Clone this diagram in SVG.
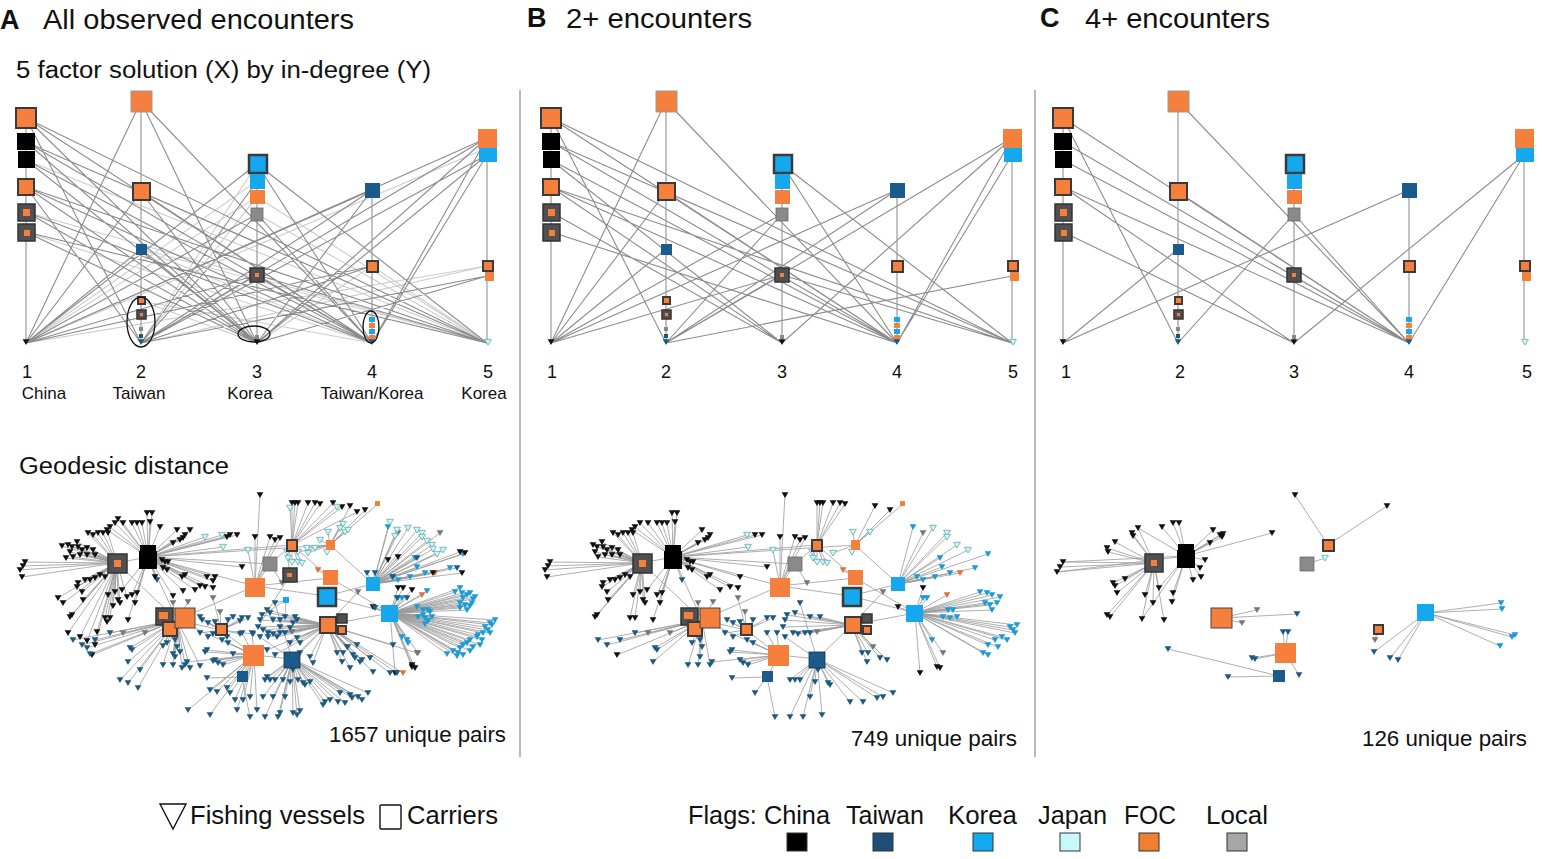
<svg xmlns="http://www.w3.org/2000/svg" width="1542" height="859" viewBox="0 0 1542 859">
<style>
text{font-family:"Liberation Sans",Arial,sans-serif;fill:#111}
.h{font-size:27px}
.hb{font-size:27px;font-weight:bold}
.s{font-size:23px}
.n{font-size:18px}
.m{font-size:17px}
.lg{font-size:25px}
.pr{font-size:22px}
.vl{stroke:#9a9a9a;stroke-width:1.2;fill:none}
.dv{stroke:#8a8a8a;stroke-width:1.2}
.te{fill:none;stroke:#8c8c8c;stroke-width:1.1}
.tl{fill:none;stroke:#cdcdcd;stroke-width:1.1}
.ne{fill:none;stroke:#9c9c9c;stroke-width:.95;stroke-opacity:.85}
.o{fill:#f57f3c}
.ob{fill:#f57f3c;stroke:#3a3a3a;stroke-width:2}
.db{fill:#505050;stroke:#333;stroke-width:1.5}
.bk{fill:#000}
.tw{fill:#1c5a8c}
.kr{fill:#16a8ee}
.kb{fill:#16a8ee;stroke:#3a3a3a;stroke-width:2.5}
.gr{fill:#8a8a8a;stroke:#6a6a6a;stroke-width:.8}
.k{fill:#111}
.d{fill:#1d5a82}
.b{fill:#1b9ad6}
.j{fill:#d0f6f8;stroke:#5fa8ae;stroke-width:.8}
.g{fill:#777}
.to{fill:#e07040}
.el{fill:none;stroke:#111;stroke-width:1.3}
.lgs{stroke:#333;stroke-width:1}
</style>
<defs>
<path id="t" d="M-3.4-2.7h6.8l-3.4 5.8z"/>
</defs>

<!-- headings -->
<g id="headings">
<text class="hb" x="0" y="29">A</text>
<text class="h" x="43" y="29" textLength="311" lengthAdjust="spacingAndGlyphs">All observed encounters</text>
<text class="hb" x="527" y="27">B</text>
<text class="h" x="566" y="28" textLength="186" lengthAdjust="spacingAndGlyphs">2+ encounters</text>
<text class="hb" x="1040" y="27">C</text>
<text class="h" x="1085" y="28" textLength="185" lengthAdjust="spacingAndGlyphs">4+ encounters</text>
<text class="s" x="16" y="78" textLength="415" lengthAdjust="spacingAndGlyphs">5 factor solution (X) by in-degree (Y)</text>
<text class="s" x="19" y="474" textLength="210" lengthAdjust="spacingAndGlyphs">Geodesic distance</text>
</g>

<g id="dividers">
<line class="dv" x1="520" y1="90" x2="520" y2="757"/>
<line class="dv" x1="1035" y1="90" x2="1035" y2="757"/>
</g>

<!-- ===== Top panel A ===== -->
<g id="topEdgesA">
<path class="tl" d="M257 181L26 343M257 197L26 343M257 197L141 343M257 214L487 343M257 164L141 343M372 266L257 343M26 212L487 343M26 160L487 343M141 249L372 343M141 249L487 343M487 266L26 343M487 266L141 343M141 301L372 343M141 301L257 343M26 232L372 343M257 197L487 343M372 266L487 343M487 148L26 343"/>
<path class="te" d="M26 118L141 343M26 118L257 343M26 118L372 343M26 118L487 343M26 142L257 343M26 142L372 343M26 142L487 343M26 160L257 343M26 160L372 343M26 187L141 343M26 187L257 343M26 187L372 343M26 187L487 343M26 212L257 343M26 212L372 343M26 232L257 343M26 232L487 343M141 101L26 343M141 101L257 343M141 101L372 343M141 192L26 343M141 192L257 343M141 192L372 343M141 192L487 343M141 249L26 343M141 249L257 343M257 164L26 343M257 164L372 343M257 164L487 343M257 181L141 343M257 214L26 343M257 214L141 343M257 214L372 343M257 275L26 343M257 275L141 343M257 275L372 343M257 275L487 343M372 190L26 343M372 190L141 343M372 190L257 343M372 266L26 343M372 266L141 343M487 138L26 343M487 138L141 343M487 138L257 343M487 138L372 343M487 155L141 343M487 155L257 343M487 155L372 343M487 276L141 343M487 276L257 343"/>
</g>
<g id="colsA">
<path class="vl" d="M26 118V343M141 101V343M257 164V343M372 190V343M487 138V343"/>
<g id="col1">
<rect class="ob" x="16" y="108" width="20" height="20"/>
<rect class="bk" x="17" y="133" width="18" height="17"/>
<rect class="bk" x="18" y="151" width="17" height="17"/>
<rect class="ob" x="18" y="179" width="16" height="16"/>
<rect class="db" x="18" y="204" width="17" height="17"/><rect class="o" x="23" y="209" width="7" height="7"/>
<rect class="db" x="18" y="224" width="17" height="17"/><rect class="o" x="24" y="230" width="6" height="6"/>
<use href="#t" x="26" y="342" class="k"/>
</g>
<g id="col2">
<rect class="o" x="131" y="91" width="21" height="21" stroke="#999" stroke-width="1"/>
<rect class="ob" x="133" y="183" width="17" height="17"/>
<rect class="tw" x="136" y="244" width="11" height="11"/>
<rect class="ob" x="138" y="297" width="7" height="7" stroke-width="1.5"/>
<rect class="db" x="137" y="310" width="9" height="9"/><rect class="o" x="140" y="313" width="3" height="3"/>
<rect x="139" y="327" width="4" height="4" fill="#888"/>
<rect x="139" y="334" width="4" height="4" fill="#1b5a75"/>
<use href="#t" x="141" y="342" class="d"/>
</g>
<g id="col3">
<rect class="kb" x="249" y="155" width="18" height="18"/>
<rect class="kr" x="250" y="174" width="15" height="15"/>
<rect class="o" x="250" y="190" width="15" height="14"/>
<rect class="gr" x="251" y="208" width="12" height="13"/>
<rect class="db" x="250" y="268" width="14" height="14"/><rect class="o" x="255" y="273" width="4" height="4"/>
<rect x="255" y="335" width="4" height="4" fill="#888"/>
<use href="#t" x="257" y="342" class="k"/>
</g>
<g id="col4">
<rect class="tw" x="365" y="183" width="15" height="15"/>
<rect class="ob" x="367" y="261" width="11" height="11"/>
<rect class="kr" x="369" y="317" width="6" height="5"/>
<rect class="o" x="369" y="323" width="6" height="5"/>
<rect class="kr" x="369" y="329" width="6" height="5"/>
<rect class="o" x="369" y="335" width="6" height="5"/>
<use href="#t" x="372" y="342" class="d"/>
</g>
<g id="col5">
<rect class="o" x="478" y="129" width="19" height="19"/>
<rect class="kr" x="479" y="148" width="18" height="14"/>
<rect class="ob" x="483" y="261" width="10" height="10"/>
<rect class="o" x="485" y="272" width="9" height="9"/>
<use href="#t" x="488" y="342" class="j"/>
</g>
</g>
<g id="ellipsesA">
<ellipse class="el" cx="141" cy="322" rx="14" ry="25"/>
<ellipse class="el" cx="254" cy="334" rx="16" ry="8"/>
<ellipse class="el" cx="371" cy="327" rx="8" ry="16"/>
</g>
<g id="labelsA">
<text class="n" x="27" y="378" text-anchor="middle">1</text>
<text class="n" x="141" y="378" text-anchor="middle">2</text>
<text class="n" x="257" y="378" text-anchor="middle">3</text>
<text class="n" x="372" y="378" text-anchor="middle">4</text>
<text class="n" x="488" y="378" text-anchor="middle">5</text>
<text class="m" x="44" y="399" text-anchor="middle">China</text>
<text class="m" x="139" y="399" text-anchor="middle">Taiwan</text>
<text class="m" x="250" y="399" text-anchor="middle">Korea</text>
<text class="m" x="372" y="399" text-anchor="middle">Taiwan/Korea</text>
<text class="m" x="484" y="399" text-anchor="middle">Korea</text>
</g>

<!-- ===== Top panel B ===== -->
<g id="topEdgesB" transform="translate(525,0)">
<path class="te" d="M26 118L141 343M26 118L372 343M26 118L487 343M26 142L372 343M26 142L487 343M26 160L257 343M26 160L372 343M26 187L257 343M26 187L372 343M26 187L487 343M26 212L257 343M26 232L372 343M141 101L26 343M141 101L372 343M141 192L26 343M141 192L372 343M141 192L487 343M141 249L26 343M257 164L372 343M257 164L487 343M257 214L26 343M257 214L141 343M257 275L26 343M257 275L141 343M257 275L487 343M372 190L26 343M372 190L141 343M487 138L141 343M487 138L257 343M487 138L372 343M487 155L372 343M487 276L141 343"/>
</g>
<use id="colsB" href="#colsA" x="525"/>
<g id="labelsB">
<text class="n" x="552" y="378" text-anchor="middle">1</text>
<text class="n" x="666" y="378" text-anchor="middle">2</text>
<text class="n" x="782" y="378" text-anchor="middle">3</text>
<text class="n" x="897" y="378" text-anchor="middle">4</text>
<text class="n" x="1013" y="378" text-anchor="middle">5</text>
</g>

<!-- ===== Top panel C ===== -->
<g id="topEdgesC" transform="translate(1037,0)">
<path class="te" d="M26 118L141 343M26 118L372 343M26 142L372 343M26 160L372 343M26 187L257 343M26 187L372 343M26 232L257 343M141 101L372 343M141 192L372 343M141 249L26 343M257 214L141 343M257 214L372 343M372 190L26 343M487 155L257 343M487 155L372 343"/>
</g>
<use id="colsC" href="#colsA" x="1037"/>
<g id="labelsC">
<text class="n" x="1066" y="378" text-anchor="middle">1</text>
<text class="n" x="1180" y="378" text-anchor="middle">2</text>
<text class="n" x="1294" y="378" text-anchor="middle">3</text>
<text class="n" x="1409" y="378" text-anchor="middle">4</text>
<text class="n" x="1527" y="378" text-anchor="middle">5</text>
</g>

<!-- ===== Network A (core shared with B) ===== -->
<g id="netCoreE">
<path class="ne" d="M117 563L25 562M117 563L23 566M117 563L20 570M117 563L22 577M117 563L77 542M117 563L78 547M117 563L72 547M117 563L68 545M117 563L70 552M117 563L73 557M117 563L82 550M117 563L87 548M117 563L93 550M117 563L95 555M117 563L87 555M117 563L80 555M117 563L78 583M117 563L77 587M117 563L82 592M117 563L85 580M117 563L90 580M117 563L95 578M117 563L72 615M117 563L70 617M117 563L83 600M117 563L100 575M117 563L105 577M117 563L108 595M117 563L115 592M117 563L118 600M117 563L120 603M117 563L110 618M117 563L105 618M117 563L98 533M117 563L93 535M117 563L88 533M117 563L103 533M117 563L108 533"/>
<path class="ne" d="M148 557L147 513M148 557L152 513M148 557L150 522M148 557L123 523M148 557L132 523M148 557L137 523M148 557L142 523M148 557L115 523M148 557L110 527M148 557L107 530M148 557L177 530M148 557L185 535M148 557L183 538M148 557L180 540M148 557L173 543M148 557L162 560M148 557L165 562M148 557L168 562M148 557L163 568M148 557L167 570M148 557L185 575M148 557L182 577M148 557L195 590M148 557L205 587M148 557L213 588M148 557L215 577M148 557L242 567M148 557L230 535M148 557L237 535M148 557L122 590M148 557L132 595M148 557L135 603M148 557L137 593M148 557L128 620M148 557L157 580M148 557L222 535M148 557L223 547"/>
<path class="ne" d="M177 620L73 640M177 620L82 645M177 620L95 640M177 620L110 633M177 620L130 648M177 620L132 650M177 620L128 662M177 620L167 643M177 620L175 640M177 620L177 647M177 620L173 665M177 620L163 665M177 620L185 665M177 620L175 657M177 620L92 655M177 620L123 633M177 620L145 633M177 620L173 603M177 620L188 602"/>
<path class="ne" d="M221 630L202 620M221 630L208 623M221 630L215 622M221 630L228 620M221 630L242 618M221 630L248 618M221 630L200 633M221 630L208 637M221 630L213 598M221 630L220 612"/>
<path class="ne" d="M254 655L222 640M254 655L228 643M254 655L242 633M254 655L252 633M254 655L207 650M254 655L205 652M254 655L215 660M254 655L218 663M254 655L223 665M254 655L187 662M242 677L207 678M242 677L230 693M242 677L250 717"/>
<path class="ne" d="M255 586L248 550M255 586L270 537M255 586L275 540M255 586L280 538M255 586L255 537M255 586L260 495M292 545L292 503M292 545L295 503M292 545L298 503M292 545L308 503M292 545L315 503M292 545L320 504M292 545L287 552M292 545L288 558M292 545L292 562M292 545L298 562M292 545L302 563M330 545L328 532M330 545L345 532M330 545L308 553M330 545L327 552M330 545L350 506M330 545L365 510M330 545L378 504M270 564L282 583"/>
<path class="ne" d="M373 584L388 527M373 584L415 558M373 584L417 567M373 584L425 573M373 584L392 577M373 584L398 580M373 584L410 577M373 584L450 568M373 584L463 554M373 584L398 533M373 584L408 528M373 584L422 533M373 584L422 537M373 584L432 545M373 584L443 550M373 584L435 573"/>
<path class="ne" d="M390 613L398 598M390 613L402 598M390 613L455 592M390 613L462 593M390 613L467 595M390 613L475 597M390 613L460 603M390 613L465 605M390 613L472 603M390 613L467 610M390 613L423 610M390 613L428 610M390 613L418 617M390 613L425 618M390 613L432 617M390 613L485 627M390 613L492 625M390 613L488 630M390 613L490 633M390 613L477 637M390 613L482 640M390 613L470 640M390 613L473 647M390 613L463 645M390 613L458 653M390 613L463 655M390 613L407 640M390 613L398 588M390 613L373 607M390 613L412 667M390 613L415 668M390 613L395 673M390 613L422 595M390 613L418 653"/>
<path class="ne" d="M327 625L262 615M327 625L270 613M327 625L260 620M327 625L258 627M327 625L285 617M327 625L295 617M327 625L268 633M327 625L273 634M327 625L280 633M327 625L285 633M327 625L337 653M327 625L343 653M327 625L342 662M327 625L355 658M327 625L362 660M327 625L292 632M327 625L348 647M327 625L358 592M330 578L318 570"/>
<path class="ne" d="M292 659L275 603M292 659L260 637M292 659L293 670M292 659L265 680M292 659L270 680M292 659L275 680M292 659L290 682M292 659L303 683M292 659L305 685M292 659L285 697M292 659L325 702M292 659L338 702M292 659L352 698M292 659L358 697M292 659L368 693M292 659L265 717M292 659L278 717M292 659L297 715"/>
<path class="ne" d="M117 563L148 557M148 557L255 586M148 557L177 620M177 620L255 586M255 586L330 578M177 620L254 655M254 655L292 659M270 564L255 586M326 596L373 584M330 578L390 613M292 545L270 564M148 557L292 545M148 557L330 545M221 630L254 655M327 625L390 613M326 596L390 613M330 578L292 545M117 563L177 620M148 557L270 564M255 586L326 596M177 620L221 630M242 677L254 655M327 625L292 659M373 584L330 545"/>
</g>

<g id="netExtraE">
<path class="ne" d="M117 563L127 597M117 563L113 606M117 563L62 546M117 563L66 558M117 563L68 633M117 563L80 637M117 563L87 641M117 563L95 645M117 563L107 622M117 563L97 632M117 563L58 598M117 563L63 603M148 557L155 577M148 557L207 577M148 557L200 586M148 557L183 591M148 557L173 596M148 557L213 581M148 557L227 537M148 557L190 530M148 557L160 527M148 557L118 519M148 557L205 537M177 620L87 648M177 620L90 654M177 620L120 680M177 620L128 683M177 620L138 688M177 620L163 646M177 620L173 654M177 620L180 652M177 620L182 668M177 620L190 668M177 620L200 666M177 620L140 670M254 655L213 661M254 655L233 654M254 655L210 690M254 655L217 692M254 655L227 688M254 655L237 710M254 655L243 700M254 655L250 697M254 655L188 710M254 655L210 715M254 655L257 710M254 655L235 700M221 630L200 617M221 630L233 617M221 630L240 621M221 630L213 634M221 630L227 637M221 630L240 634M221 630L253 634"/>
<path class="ne" d="M292 545L333 503M292 545L342 507M292 545L357 512M292 545L290 508M292 545L337 507M330 545L340 528M330 545L343 524M330 545L348 530M330 545L298 552M330 545L307 548M330 545L315 548M330 545L320 540M373 584L397 530M373 584L417 530M373 584L427 541M373 584L433 549M373 584L437 554M373 584L395 536M373 584L390 522M373 584L440 533M373 584L460 552M373 584L465 553M373 584L462 573M373 584L388 560M373 584L398 557M373 584L433 573M373 584L417 558M373 584L457 568M373 584L375 573M373 584L367 573M373 584L393 577"/>
<path class="ne" d="M390 613L460 588M390 613L470 593M390 613L473 599M390 613L463 598M390 613L460 608M390 613L470 606M390 613L417 607M390 613L430 612M390 613L423 615M390 613L428 621M390 613L425 624M390 613L490 623M390 613L495 620M390 613L483 633M390 613L478 635M390 613L480 645M390 613L467 643M390 613L460 648M390 613L453 651M390 613L447 654M390 613L457 656M390 613L470 651M390 613L408 643M390 613L402 637M390 613L427 591M390 613L403 588M390 613L412 590M390 613L412 665M390 613L397 598M390 613L407 598M390 613L375 608M390 613L393 619"/>
<path class="ne" d="M327 625L267 610M327 625L273 620M327 625L280 620M327 625L280 627M327 625L293 623M327 625L297 620M327 625L290 628M327 625L263 630M327 625L268 637M327 625L277 637M327 625L297 638M327 625L300 643M327 625L290 643M327 625L267 650M327 625L275 655M327 625L300 653M327 625L310 657M327 625L313 663M327 625L347 647M327 625L357 645M327 625L360 662M327 625L350 668M327 625L373 672M327 625L390 673M327 625L397 673M327 625L370 658M327 625L393 645M327 625L353 655M327 625L417 653M327 625L403 673M292 659L323 705M292 659L330 700M292 659L345 703M292 659L350 695M292 659L362 700M292 659L340 693M292 659L273 697M292 659L263 697M292 659L283 680M292 659L298 680M292 659L310 682M292 659L267 677M292 659L293 713M292 659L300 711M292 659L280 713M290 575L282 583M290 575L287 552M290 575L258 627M286 600L262 615M286 600L285 617M286 600L275 603"/>
</g>

<g id="netCoreT">
<g class="k">
<use href="#t" x="25" y="562"/><use href="#t" x="23" y="566"/><use href="#t" x="20" y="570"/><use href="#t" x="22" y="577"/><use href="#t" x="77" y="542"/><use href="#t" x="78" y="547"/><use href="#t" x="72" y="547"/><use href="#t" x="68" y="545"/><use href="#t" x="70" y="552"/><use href="#t" x="73" y="557"/><use href="#t" x="82" y="550"/><use href="#t" x="87" y="548"/><use href="#t" x="93" y="550"/><use href="#t" x="95" y="555"/><use href="#t" x="87" y="555"/><use href="#t" x="80" y="555"/><use href="#t" x="78" y="583"/><use href="#t" x="77" y="587"/><use href="#t" x="82" y="592"/><use href="#t" x="85" y="580"/><use href="#t" x="90" y="580"/><use href="#t" x="95" y="578"/><use href="#t" x="72" y="615"/><use href="#t" x="70" y="617"/><use href="#t" x="83" y="600"/><use href="#t" x="100" y="575"/><use href="#t" x="105" y="577"/><use href="#t" x="108" y="595"/><use href="#t" x="115" y="592"/><use href="#t" x="118" y="600"/><use href="#t" x="120" y="603"/><use href="#t" x="110" y="618"/><use href="#t" x="105" y="618"/><use href="#t" x="98" y="533"/><use href="#t" x="93" y="535"/><use href="#t" x="88" y="533"/><use href="#t" x="103" y="533"/><use href="#t" x="108" y="533"/>
<use href="#t" x="147" y="513"/><use href="#t" x="152" y="513"/><use href="#t" x="150" y="522"/><use href="#t" x="123" y="523"/><use href="#t" x="132" y="523"/><use href="#t" x="137" y="523"/><use href="#t" x="142" y="523"/><use href="#t" x="115" y="523"/><use href="#t" x="110" y="527"/><use href="#t" x="107" y="530"/><use href="#t" x="177" y="530"/><use href="#t" x="185" y="535"/><use href="#t" x="183" y="538"/><use href="#t" x="180" y="540"/><use href="#t" x="173" y="543"/><use href="#t" x="162" y="560"/><use href="#t" x="165" y="562"/><use href="#t" x="168" y="562"/><use href="#t" x="163" y="568"/><use href="#t" x="167" y="570"/><use href="#t" x="185" y="575"/><use href="#t" x="182" y="577"/><use href="#t" x="195" y="590"/><use href="#t" x="205" y="587"/><use href="#t" x="213" y="588"/><use href="#t" x="215" y="577"/><use href="#t" x="242" y="567"/><use href="#t" x="230" y="535"/><use href="#t" x="237" y="535"/><use href="#t" x="122" y="590"/><use href="#t" x="132" y="595"/><use href="#t" x="135" y="603"/><use href="#t" x="137" y="593"/><use href="#t" x="128" y="620"/>
<use href="#t" x="92" y="655"/><use href="#t" x="270" y="537"/><use href="#t" x="275" y="540"/><use href="#t" x="280" y="538"/><use href="#t" x="255" y="537"/><use href="#t" x="260" y="495"/><use href="#t" x="292" y="503"/><use href="#t" x="295" y="503"/><use href="#t" x="298" y="503"/><use href="#t" x="308" y="503"/><use href="#t" x="315" y="503"/><use href="#t" x="320" y="504"/><use href="#t" x="350" y="506"/><use href="#t" x="365" y="510"/><use href="#t" x="398" y="588"/><use href="#t" x="373" y="607"/><use href="#t" x="412" y="667"/><use href="#t" x="415" y="668"/><use href="#t" x="395" y="673"/>
</g>
<g class="d">
<use href="#t" x="157" y="580"/><use href="#t" x="73" y="640"/><use href="#t" x="82" y="645"/><use href="#t" x="95" y="640"/><use href="#t" x="110" y="633"/><use href="#t" x="130" y="648"/><use href="#t" x="132" y="650"/><use href="#t" x="128" y="662"/><use href="#t" x="167" y="643"/><use href="#t" x="175" y="640"/><use href="#t" x="177" y="647"/><use href="#t" x="173" y="665"/><use href="#t" x="163" y="665"/><use href="#t" x="185" y="665"/><use href="#t" x="175" y="657"/>
<use href="#t" x="202" y="620"/><use href="#t" x="208" y="623"/><use href="#t" x="215" y="622"/><use href="#t" x="228" y="620"/><use href="#t" x="242" y="618"/><use href="#t" x="248" y="618"/><use href="#t" x="200" y="633"/><use href="#t" x="208" y="637"/>
<use href="#t" x="222" y="640"/><use href="#t" x="228" y="643"/><use href="#t" x="242" y="633"/><use href="#t" x="252" y="633"/><use href="#t" x="207" y="650"/><use href="#t" x="205" y="652"/><use href="#t" x="215" y="660"/><use href="#t" x="218" y="663"/><use href="#t" x="223" y="665"/><use href="#t" x="187" y="662"/><use href="#t" x="207" y="678"/><use href="#t" x="230" y="693"/><use href="#t" x="250" y="717"/>
<use href="#t" x="262" y="615"/><use href="#t" x="270" y="613"/><use href="#t" x="260" y="620"/><use href="#t" x="258" y="627"/><use href="#t" x="285" y="617"/><use href="#t" x="295" y="617"/><use href="#t" x="268" y="633"/><use href="#t" x="273" y="634"/><use href="#t" x="280" y="633"/><use href="#t" x="285" y="633"/><use href="#t" x="337" y="653"/><use href="#t" x="343" y="653"/><use href="#t" x="342" y="662"/><use href="#t" x="355" y="658"/><use href="#t" x="362" y="660"/>
<use href="#t" x="275" y="603"/><use href="#t" x="260" y="637"/><use href="#t" x="293" y="670"/><use href="#t" x="265" y="680"/><use href="#t" x="270" y="680"/><use href="#t" x="275" y="680"/><use href="#t" x="290" y="682"/><use href="#t" x="303" y="683"/><use href="#t" x="305" y="685"/><use href="#t" x="285" y="697"/><use href="#t" x="325" y="702"/><use href="#t" x="338" y="702"/><use href="#t" x="352" y="698"/><use href="#t" x="358" y="697"/><use href="#t" x="368" y="693"/><use href="#t" x="265" y="717"/><use href="#t" x="278" y="717"/><use href="#t" x="297" y="715"/>
</g>
<g class="b">
<use href="#t" x="388" y="527"/><use href="#t" x="415" y="558"/><use href="#t" x="417" y="567"/><use href="#t" x="425" y="573"/><use href="#t" x="392" y="577"/><use href="#t" x="398" y="580"/><use href="#t" x="410" y="577"/><use href="#t" x="450" y="568"/><use href="#t" x="463" y="554"/>
<use href="#t" x="398" y="598"/><use href="#t" x="402" y="598"/><use href="#t" x="455" y="592"/><use href="#t" x="462" y="593"/><use href="#t" x="467" y="595"/><use href="#t" x="475" y="597"/><use href="#t" x="460" y="603"/><use href="#t" x="465" y="605"/><use href="#t" x="472" y="603"/><use href="#t" x="467" y="610"/><use href="#t" x="423" y="610"/><use href="#t" x="428" y="610"/><use href="#t" x="418" y="617"/><use href="#t" x="425" y="618"/><use href="#t" x="432" y="617"/><use href="#t" x="485" y="627"/><use href="#t" x="492" y="625"/><use href="#t" x="488" y="630"/><use href="#t" x="490" y="633"/><use href="#t" x="477" y="637"/><use href="#t" x="482" y="640"/><use href="#t" x="470" y="640"/><use href="#t" x="473" y="647"/><use href="#t" x="463" y="645"/><use href="#t" x="458" y="653"/><use href="#t" x="463" y="655"/><use href="#t" x="407" y="640"/>
</g>
<g class="j">
<use href="#t" x="222" y="535"/><use href="#t" x="223" y="547"/><use href="#t" x="248" y="550"/><use href="#t" x="287" y="552"/><use href="#t" x="288" y="558"/><use href="#t" x="292" y="562"/><use href="#t" x="298" y="562"/><use href="#t" x="302" y="563"/><use href="#t" x="328" y="532"/><use href="#t" x="345" y="532"/><use href="#t" x="308" y="553"/><use href="#t" x="327" y="552"/><use href="#t" x="408" y="528"/><use href="#t" x="422" y="533"/><use href="#t" x="422" y="537"/><use href="#t" x="432" y="545"/><use href="#t" x="443" y="550"/>
</g>
<g class="g">
<use href="#t" x="123" y="633"/><use href="#t" x="145" y="633"/><use href="#t" x="173" y="603"/><use href="#t" x="188" y="602"/><use href="#t" x="213" y="598"/><use href="#t" x="220" y="612"/><use href="#t" x="282" y="583"/><use href="#t" x="398" y="533"/><use href="#t" x="418" y="653"/><use href="#t" x="292" y="632"/><use href="#t" x="348" y="647"/><use href="#t" x="358" y="592"/>
</g>
<g class="to">
<use href="#t" x="435" y="573"/><use href="#t" x="422" y="595"/><use href="#t" x="318" y="570"/>
</g>
</g>

<g id="netExtraT">
<g class="k">
<use href="#t" x="127" y="597"/><use href="#t" x="113" y="606"/><use href="#t" x="62" y="546"/><use href="#t" x="66" y="558"/><use href="#t" x="68" y="633"/><use href="#t" x="80" y="637"/><use href="#t" x="87" y="641"/><use href="#t" x="95" y="645"/><use href="#t" x="107" y="622"/><use href="#t" x="97" y="632"/><use href="#t" x="58" y="598"/><use href="#t" x="63" y="603"/><use href="#t" x="155" y="577"/><use href="#t" x="207" y="577"/><use href="#t" x="200" y="586"/><use href="#t" x="183" y="591"/><use href="#t" x="173" y="596"/><use href="#t" x="213" y="581"/><use href="#t" x="227" y="537"/><use href="#t" x="190" y="530"/><use href="#t" x="160" y="527"/><use href="#t" x="118" y="519"/><use href="#t" x="333" y="503"/><use href="#t" x="342" y="507"/><use href="#t" x="357" y="512"/><use href="#t" x="460" y="552"/><use href="#t" x="465" y="553"/><use href="#t" x="462" y="573"/><use href="#t" x="388" y="560"/><use href="#t" x="398" y="557"/><use href="#t" x="433" y="573"/><use href="#t" x="403" y="588"/><use href="#t" x="412" y="590"/><use href="#t" x="412" y="665"/>
</g>
<g class="d">
<use href="#t" x="87" y="648"/><use href="#t" x="90" y="654"/><use href="#t" x="120" y="680"/><use href="#t" x="128" y="683"/><use href="#t" x="138" y="688"/><use href="#t" x="163" y="646"/><use href="#t" x="173" y="654"/><use href="#t" x="180" y="652"/><use href="#t" x="182" y="668"/><use href="#t" x="190" y="668"/><use href="#t" x="200" y="666"/><use href="#t" x="140" y="670"/><use href="#t" x="213" y="661"/><use href="#t" x="233" y="654"/><use href="#t" x="210" y="690"/><use href="#t" x="217" y="692"/><use href="#t" x="227" y="688"/><use href="#t" x="237" y="710"/><use href="#t" x="243" y="700"/><use href="#t" x="250" y="697"/><use href="#t" x="188" y="710"/><use href="#t" x="210" y="715"/><use href="#t" x="257" y="710"/><use href="#t" x="235" y="700"/><use href="#t" x="200" y="617"/><use href="#t" x="233" y="617"/><use href="#t" x="240" y="621"/><use href="#t" x="213" y="634"/><use href="#t" x="227" y="637"/><use href="#t" x="240" y="634"/><use href="#t" x="253" y="634"/><use href="#t" x="417" y="558"/><use href="#t" x="457" y="568"/><use href="#t" x="375" y="573"/><use href="#t" x="367" y="573"/><use href="#t" x="393" y="577"/><use href="#t" x="397" y="598"/><use href="#t" x="407" y="598"/><use href="#t" x="375" y="608"/><use href="#t" x="393" y="619"/>
<use href="#t" x="267" y="610"/><use href="#t" x="273" y="620"/><use href="#t" x="280" y="620"/><use href="#t" x="280" y="627"/><use href="#t" x="293" y="623"/><use href="#t" x="297" y="620"/><use href="#t" x="290" y="628"/><use href="#t" x="263" y="630"/><use href="#t" x="268" y="637"/><use href="#t" x="277" y="637"/><use href="#t" x="297" y="638"/><use href="#t" x="300" y="643"/><use href="#t" x="290" y="643"/><use href="#t" x="267" y="650"/><use href="#t" x="275" y="655"/><use href="#t" x="300" y="653"/><use href="#t" x="310" y="657"/><use href="#t" x="313" y="663"/><use href="#t" x="347" y="647"/><use href="#t" x="357" y="645"/><use href="#t" x="360" y="662"/><use href="#t" x="350" y="668"/><use href="#t" x="373" y="672"/><use href="#t" x="390" y="673"/><use href="#t" x="397" y="673"/><use href="#t" x="370" y="658"/><use href="#t" x="393" y="645"/><use href="#t" x="353" y="655"/>
<use href="#t" x="323" y="705"/><use href="#t" x="330" y="700"/><use href="#t" x="345" y="703"/><use href="#t" x="350" y="695"/><use href="#t" x="362" y="700"/><use href="#t" x="340" y="693"/><use href="#t" x="273" y="697"/><use href="#t" x="263" y="697"/><use href="#t" x="283" y="680"/><use href="#t" x="298" y="680"/><use href="#t" x="310" y="682"/><use href="#t" x="267" y="677"/><use href="#t" x="293" y="713"/><use href="#t" x="300" y="711"/><use href="#t" x="280" y="713"/>
</g>
<g class="b">
<use href="#t" x="460" y="588"/><use href="#t" x="470" y="593"/><use href="#t" x="473" y="599"/><use href="#t" x="463" y="598"/><use href="#t" x="460" y="608"/><use href="#t" x="470" y="606"/><use href="#t" x="417" y="607"/><use href="#t" x="430" y="612"/><use href="#t" x="423" y="615"/><use href="#t" x="428" y="621"/><use href="#t" x="425" y="624"/><use href="#t" x="490" y="623"/><use href="#t" x="495" y="620"/><use href="#t" x="483" y="633"/><use href="#t" x="478" y="635"/><use href="#t" x="480" y="645"/><use href="#t" x="467" y="643"/><use href="#t" x="460" y="648"/><use href="#t" x="453" y="651"/><use href="#t" x="447" y="654"/><use href="#t" x="457" y="656"/><use href="#t" x="470" y="651"/><use href="#t" x="408" y="643"/><use href="#t" x="402" y="637"/><use href="#t" x="427" y="591"/>
</g>
<g class="j">
<use href="#t" x="205" y="537"/><use href="#t" x="290" y="508"/><use href="#t" x="337" y="507"/><use href="#t" x="340" y="528"/><use href="#t" x="343" y="524"/><use href="#t" x="348" y="530"/><use href="#t" x="298" y="552"/><use href="#t" x="307" y="548"/><use href="#t" x="315" y="548"/><use href="#t" x="320" y="540"/><use href="#t" x="397" y="530"/><use href="#t" x="417" y="530"/><use href="#t" x="427" y="541"/><use href="#t" x="433" y="549"/><use href="#t" x="437" y="554"/><use href="#t" x="395" y="536"/><use href="#t" x="390" y="522"/>
</g>
<g class="g"><use href="#t" x="440" y="533"/><use href="#t" x="417" y="653"/></g>
<g class="to"><use href="#t" x="403" y="673"/></g>
</g>

<g id="netHubs">
<g id="hubChinaLocal"><rect class="db" x="108" y="554" width="19" height="19"/><rect class="o" x="114" y="560" width="7" height="7"/></g>
<g id="hubChina"><rect class="bk" x="140" y="545" width="16" height="10"/><rect class="bk" x="139" y="551" width="18" height="18"/></g>
<g id="hubFOC1"><rect class="db" x="156" y="608" width="17" height="17"/><rect class="o" x="159" y="612" width="9" height="7"/><rect class="ob" x="163" y="622" width="14" height="14"/><rect class="o" x="175" y="608" width="20" height="20" stroke="#444" stroke-width="1"/></g>
<g id="hubFOC2"><rect class="ob" x="216" y="624" width="11" height="11"/></g>
<g id="hubFOC3"><rect class="o" x="245" y="578" width="20" height="19"/></g>
<g id="hubFOC4"><rect class="o" x="243" y="645" width="21" height="21"/></g>
<g id="hubTW1"><rect class="tw" x="237" y="671" width="11" height="11"/></g>
<g id="hubTW2"><rect class="tw" x="284" y="652" width="16" height="16" stroke="#134" stroke-width=".8"/></g>
<g id="hubLocal"><rect class="gr" x="263" y="557" width="14" height="14"/></g>
<g id="hubFOC5"><rect class="ob" x="287" y="540" width="10" height="11"/></g>
<g id="hubFOC6"><rect class="o" x="326" y="540" width="9" height="10"/></g>
<g id="hubFOC7"><rect class="o" x="323" y="570" width="15" height="15"/></g>
<g id="hubKR1"><rect class="kb" x="318" y="588" width="18" height="18"/></g>
<g id="hubKR2"><rect class="kr" x="366" y="577" width="14" height="14"/></g>
<g id="hubKR3"><rect class="kr" x="381" y="605" width="17" height="17"/></g>
<g id="hubFOC8"><rect class="ob" x="320" y="617" width="16" height="16" stroke-width="2.5"/><rect class="db" x="337" y="614" width="10" height="9"/><rect class="ob" x="338" y="626" width="8" height="8" stroke-width="1.5"/></g>
<g id="hubFOC9"><rect class="o" x="375" y="501" width="5" height="5"/></g>
</g>
<g id="netHubsAonly">
<g id="hubLocal2"><rect class="db" x="283" y="568" width="14" height="14"/><rect class="o" x="287" y="573" width="5" height="4"/></g>
<g id="hubKR4"><rect class="kr" x="283" y="597" width="6" height="6"/></g>
</g>
<text class="pr" x="329" y="742" textLength="177" lengthAdjust="spacingAndGlyphs">1657 unique pairs</text>

<!-- ===== Network B ===== -->
<use id="netBEdges" href="#netCoreE" x="525"/>
<use id="netBTris" href="#netCoreT" x="525"/>
<use id="netBHubs" href="#netHubs" x="525"/>
<text class="pr" x="851" y="746" textLength="166" lengthAdjust="spacingAndGlyphs">749 unique pairs</text>

<!-- ===== Network C ===== -->
<g id="netCEdges">
<path class="ne" d="M1154 563L1063 562M1154 563L1060 567M1154 563L1057 572M1154 563L1107 548M1154 563L1108 552M1154 563L1115 542M1154 563L1132 533M1154 563L1133 536M1154 563L1125 579M1154 563L1113 583M1154 563L1115 586M1154 563L1117 593M1154 563L1107 615M1154 563L1110 617M1154 563L1142 619M1154 563L1145 595M1154 563L1153 603M1154 563L1159 588M1154 563L1164 620M1154 563L1138 528M1186 556L1138 528M1186 556L1162 527M1186 556L1173 523M1186 556L1179 523M1186 556L1213 530M1186 556L1220 535M1186 556L1223 534M1186 556L1222 537M1186 556L1210 543M1186 556L1272 533M1186 556L1205 560M1186 556L1200 568M1186 556L1201 577M1186 556L1193 580M1186 556L1173 593M1186 556L1172 602M1186 556L1159 588M1186 556L1142 619M1186 556L1063 562M1186 556L1057 572"/>
<path class="ne" d="M1328 545L1295 495M1328 545L1387 506M1307 564L1325 558M1221 618L1257 610M1221 618L1242 623M1221 618L1297 614M1285 653L1283 632M1285 653L1288 632M1285 653L1252 658M1285 653L1255 659M1285 653L1299 675M1279 676L1168 649M1279 676L1228 677M1426 613L1501 603M1426 613L1502 609M1426 613L1512 637M1426 613L1515 635M1426 613L1500 646M1426 613L1374 652M1426 613L1390 658M1426 613L1398 660M1378 629L1375 640"/>
</g>
<g id="netCTris">
<g class="k">
<use href="#t" x="1063" y="562"/><use href="#t" x="1060" y="567"/><use href="#t" x="1057" y="572"/><use href="#t" x="1107" y="548"/><use href="#t" x="1108" y="552"/><use href="#t" x="1115" y="542"/><use href="#t" x="1132" y="533"/><use href="#t" x="1133" y="536"/><use href="#t" x="1125" y="579"/><use href="#t" x="1113" y="583"/><use href="#t" x="1115" y="586"/><use href="#t" x="1117" y="593"/><use href="#t" x="1107" y="615"/><use href="#t" x="1110" y="617"/><use href="#t" x="1142" y="619"/><use href="#t" x="1145" y="595"/><use href="#t" x="1153" y="603"/><use href="#t" x="1159" y="588"/><use href="#t" x="1164" y="620"/><use href="#t" x="1138" y="528"/><use href="#t" x="1162" y="527"/><use href="#t" x="1173" y="523"/><use href="#t" x="1179" y="523"/><use href="#t" x="1213" y="530"/><use href="#t" x="1220" y="535"/><use href="#t" x="1223" y="534"/><use href="#t" x="1222" y="537"/><use href="#t" x="1210" y="543"/><use href="#t" x="1272" y="533"/><use href="#t" x="1205" y="560"/><use href="#t" x="1200" y="568"/><use href="#t" x="1201" y="577"/><use href="#t" x="1193" y="580"/><use href="#t" x="1173" y="593"/><use href="#t" x="1172" y="602"/><use href="#t" x="1295" y="495"/><use href="#t" x="1387" y="506"/>
</g>
<g class="d">
<use href="#t" x="1297" y="614"/><use href="#t" x="1283" y="632"/><use href="#t" x="1288" y="632"/><use href="#t" x="1252" y="658"/><use href="#t" x="1255" y="659"/><use href="#t" x="1299" y="675"/><use href="#t" x="1168" y="649"/><use href="#t" x="1228" y="677"/><use href="#t" x="1374" y="652"/><use href="#t" x="1390" y="658"/><use href="#t" x="1398" y="660"/>
</g>
<g class="b">
<use href="#t" x="1501" y="603"/><use href="#t" x="1502" y="609"/><use href="#t" x="1512" y="637"/><use href="#t" x="1515" y="635"/><use href="#t" x="1500" y="646"/>
</g>
<g class="j"><use href="#t" x="1325" y="558"/></g>
<g class="g"><use href="#t" x="1257" y="610"/><use href="#t" x="1242" y="623"/><use href="#t" x="1375" y="640"/></g>
</g>
<g id="netCHubs">
<g id="cHubChinaLocal"><rect class="db" x="1145" y="554" width="18" height="18"/><rect class="o" x="1151" y="560" width="6" height="6"/></g>
<g id="cHubChina"><rect class="bk" x="1178" y="544" width="16" height="10"/><rect class="bk" x="1177" y="550" width="18" height="18"/></g>
<g id="cHubFOC1"><rect class="ob" x="1323" y="540" width="11" height="11"/></g>
<g id="cHubLocal"><rect class="gr" x="1300" y="557" width="14" height="14"/></g>
<g id="cHubFOC2"><rect class="o" x="1211" y="608" width="21" height="20" stroke="#444" stroke-width="1"/></g>
<g id="cHubFOC3"><rect class="o" x="1275" y="643" width="21" height="20"/></g>
<g id="cHubTW"><rect class="tw" x="1273" y="670" width="12" height="12"/></g>
<g id="cHubKR"><rect class="kr" x="1417" y="604" width="17" height="17"/></g>
<g id="cHubFOC4"><rect class="ob" x="1374" y="625" width="9" height="9" stroke-width="1.5"/></g>
</g>
<text class="pr" x="1362" y="746" textLength="165" lengthAdjust="spacingAndGlyphs">126 unique pairs</text>

<!-- ===== Legend ===== -->
<g id="legendShapes">
<path d="M160 804H186L173 829Z" fill="none" stroke="#111" stroke-width="1.4"/>
<text class="lg" x="190" y="824" textLength="175" lengthAdjust="spacingAndGlyphs">Fishing vessels</text>
<rect x="380" y="805" width="21" height="24" fill="none" stroke="#111" stroke-width="1.4" rx="1"/>
<text class="lg" x="407" y="824" textLength="91" lengthAdjust="spacingAndGlyphs">Carriers</text>
</g>
<g id="legendFlags">
<text class="lg" x="688" y="824" textLength="142" lengthAdjust="spacingAndGlyphs">Flags: China</text>
<text class="lg" x="846" y="824" textLength="78" lengthAdjust="spacingAndGlyphs">Taiwan</text>
<text class="lg" x="948" y="824" textLength="69" lengthAdjust="spacingAndGlyphs">Korea</text>
<text class="lg" x="1038" y="824" textLength="69" lengthAdjust="spacingAndGlyphs">Japan</text>
<text class="lg" x="1124" y="824" textLength="52" lengthAdjust="spacingAndGlyphs">FOC</text>
<text class="lg" x="1206" y="824" textLength="62" lengthAdjust="spacingAndGlyphs">Local</text>
<rect class="lgs" x="787" y="833" width="20" height="18" fill="#000"/>
<rect class="lgs" x="873" y="833" width="20" height="18" fill="#1f4e79"/>
<rect class="lgs" x="973" y="833" width="20" height="18" fill="#12aaf0"/>
<rect class="lgs" x="1060" y="833" width="20" height="18" fill="#c9f8fb" stroke="#777"/>
<rect class="lgs" x="1139" y="833" width="20" height="18" fill="#f07f30"/>
<rect class="lgs" x="1227" y="833" width="20" height="18" fill="#a6a6a6"/>
</g>
</svg>
